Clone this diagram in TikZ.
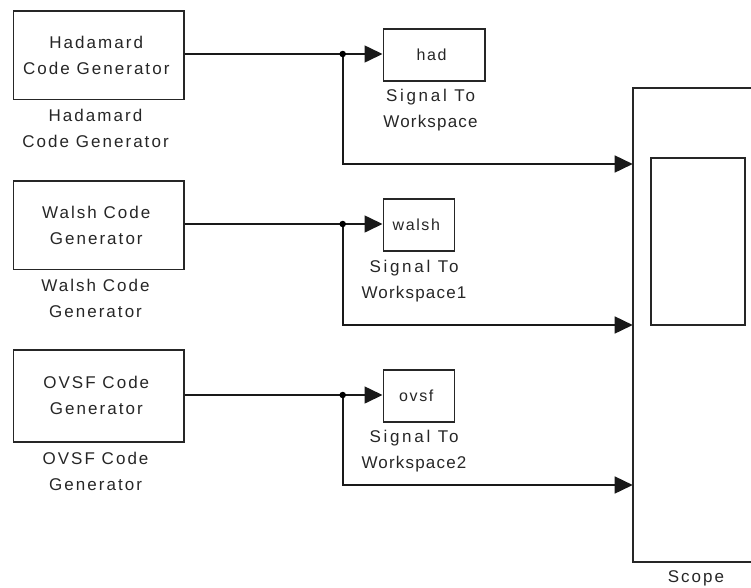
\documentclass[tikz,border=0pt]{standalone}
\usepackage{fontspec}
\setmainfont{Liberation Sans}[LetterSpace=12]
\usetikzlibrary{arrows.meta}
\newcommand\Lf[1]{#1\hspace*{5pt}}
\newcommand\Wsp[1]{{\addfontfeature{LetterSpace=7}#1}}
\newcommand\Sgl[1]{{\addfontfeature{LetterSpace=16}#1}}
\tikzset{
blk/.style={draw=black!85,line width=1.6pt,fill=white,inner sep=0pt,align=center,font=\fontsize{17}{26}\selectfont,anchor=north west,text=black!85},
genbox/.style={blk,minimum width=170.5pt,minimum height=88.5pt},
swbox/.style={blk,minimum width=71pt,minimum height=52pt,font=\fontsize{16}{26}\selectfont\addfontfeature{LetterSpace=10}},
lbl/.style={inner sep=0pt,align=center,font=\fontsize{17}{26}\selectfont,text=black!85},
wire/.style={line width=1.6pt,draw=black!90},
arr/.style={wire,-{Triangle[length=18pt,width=17pt]}},
dot/.style={circle,fill=black,inner sep=0pt,minimum size=6.5pt}
}
\begin{document}
\begin{tikzpicture}[x=1pt,y=-1pt]
\useasboundingbox (0,0) rectangle (751,587);
\node[genbox] (h) at (12.7,10) {\Lf{Hadamard}\\\Lf{Code Generator}};
\node[genbox] (w) at (12.7,180) {\Lf{Walsh Code}\\\Lf{Generator}};
\node[genbox,minimum height=92pt] (o) at (12.7,349) {\Lf{OVSF Code}\\\Lf{Generator}};
\node[lbl] (hl) at (95.5,128) {Hadamard\\Code Generator};
\node[lbl] (wl) at (95.5,298) {Walsh Code\\Generator};
\node[lbl] (ol) at (95.5,471) {OVSF Code\\Generator};
\node[swbox,minimum width=101.5pt] (s1) at (382.5,28) {\Lf{had}};
\node[swbox] (s2) at (382.5,198) {walsh\hspace*{5pt}};
\node[swbox] (s3) at (382.5,369) {\Lf{ovsf}};
\node[lbl] (s1l) at (430.5,110) {\Sgl{Signal To}\\\Wsp{Workspace}};
\node[lbl] (s2l) at (414,281) {\Sgl{Signal To}\\\Wsp{Workspace1}};
\node[lbl] (s3l) at (414,451) {\Sgl{Signal To}\\\Wsp{Workspace2}};
\draw[blk] (760,88) -- (632.7,88) -- (632.7,561.7) -- (760,561.7);
\draw[blk] (650.7,158) rectangle (745,325);
\node[lbl] (sc) at (696,578) {Scope};
\coordinate (p1) at (632.7,164);
\coordinate (p2) at (632.7,325);
\coordinate (p3) at (632.7,485);
\coordinate (j1) at (342.7,54);
\coordinate (j2) at (342.7,224);
\coordinate (j3) at (342.7,395);
\draw[arr] (h.east |- j1) -- (s1.west |- j1);
\draw[arr] (w.east |- j2) -- (s2.west |- j2);
\draw[arr] (o.east |- j3) -- (s3.west |- j3);
\draw[arr] (j1) |- (p1);
\draw[arr] (j2) |- (p2);
\draw[arr] (j3) |- (p3);
\node[dot] (d1) at (j1) {};
\node[dot] (d2) at (j2) {};
\node[dot] (d3) at (j3) {};
\end{tikzpicture}
\end{document}
